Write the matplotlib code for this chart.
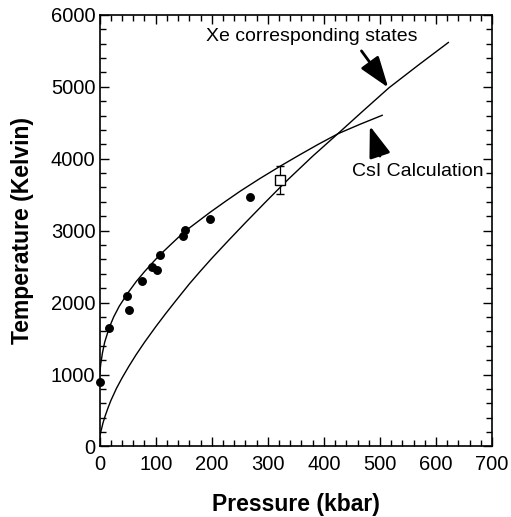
import matplotlib
matplotlib.use("Agg")
import matplotlib.pyplot as plt
from matplotlib.ticker import MultipleLocator

plt.rcParams['font.family'] = ['Liberation Sans', 'DejaVu Sans']

# CsI calculation curve (upper)
csi_p = [0, 2, 5, 9, 17, 25, 35, 50, 65, 80, 95, 108, 130, 152, 175, 197, 225, 251, 286,
         323, 356, 390, 426, 465, 504]
csi_t = [1000, 1150, 1300, 1450, 1650, 1800, 1950, 2130, 2290, 2430, 2560, 2667, 2830, 2990,
         3125, 3255, 3410, 3550, 3725, 3900, 4050, 4200, 4350, 4480, 4603]

# Xe corresponding states curve (lower)
xe_p = [0, 2, 6, 10, 15, 20, 30, 40, 52, 65, 80, 100, 118, 136, 160, 180, 200, 230, 260,
        295, 323, 338, 380, 426, 470, 516, 570, 622]
xe_t = [130, 200, 328, 428, 538, 638, 808, 953, 1113, 1275, 1448, 1664, 1849, 2027, 2260,
        2440, 2615, 2865, 3110, 3390, 3610, 3725, 4035, 4355, 4665, 4985, 5310, 5615]

# Measured points (filled circles)
dot_p = [0, 17, 49, 52, 75, 94, 102, 108, 149, 152, 197, 268]
dot_t = [902, 1650, 2096, 1901, 2300, 2496, 2458, 2667, 2922, 3005, 3159, 3470]

# Open square with error bar
sq_p = [322]
sq_t = [3707]
sq_err = [195]

fig = plt.figure(figsize=(5.11, 5.17), dpi=100)
ax = fig.add_axes([0.195, 0.1364, 0.768, 0.835])

ax.plot(csi_p, csi_t, color='black', lw=1.0)
ax.plot(xe_p, xe_t, color='black', lw=1.0)
ax.plot(dot_p, dot_t, 'o', color='black', ms=5.4, clip_on=False, zorder=3)
ax.errorbar(sq_p, sq_t, yerr=sq_err, fmt='s', mfc='white', mec='black', ecolor='black',
            ms=6.5, mew=1.0, capsize=3, elinewidth=0.9, capthick=0.9, zorder=4)

ax.set_xlim(0, 700)
ax.set_ylim(0, 6000)
ax.xaxis.set_major_locator(MultipleLocator(100))
ax.xaxis.set_minor_locator(MultipleLocator(20))
ax.yaxis.set_major_locator(MultipleLocator(1000))
ax.yaxis.set_minor_locator(MultipleLocator(200))
ax.tick_params(which='both', direction='in', top=True, right=True, width=1.0, labelsize=14.5)
ax.tick_params(axis='x', which='both', pad=6)
ax.tick_params(axis='y', which='both', pad=3)
ax.tick_params(which='major', length=6.5)
ax.tick_params(which='minor', length=4)
for s in ax.spines.values():
    s.set_linewidth(1.2)

ax.set_xlabel('Pressure (kbar)', fontsize=16.5, fontweight='bold', labelpad=14)
ax.set_ylabel('Temperature (Kelvin)', fontsize=16.5, fontweight='bold', labelpad=12)

arrow = dict(arrowstyle='-|>,head_length=1.0,head_width=0.35', color='black', lw=2.0,
             shrinkA=0, shrinkB=0, mutation_scale=19)
ax.annotate('', xy=(514.7, 4989), xytext=(467, 5498), arrowprops=arrow)
ax.annotate('', xy=(482, 4454), xytext=(500, 4036), arrowprops=arrow)

ax.text(379, 5700, 'Xe corresponding states', fontsize=14, ha='center', va='center')
ax.text(567, 3820, 'CsI Calculation', fontsize=14, ha='center', va='center')

fig.savefig('out.png', dpi=100)
